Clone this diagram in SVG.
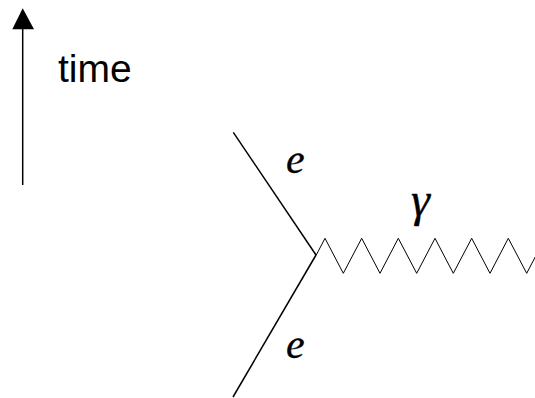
<svg xmlns="http://www.w3.org/2000/svg" width="535" height="398" viewBox="0 0 535 398">
<style>
.ln{stroke:#000;stroke-width:1.5;fill:none}
.zz{stroke:#000;stroke-width:1;fill:none}
.lbl{font-family:'Liberation Serif','Times New Roman',serif;font-style:italic;fill:#000;stroke:#000;stroke-width:0.3}
.time{font-family:'Liberation Sans',Arial,sans-serif;font-size:39px;fill:#000}
</style>
<g id="time-axis">
<line class="ln" x1="22.7" y1="185" x2="22.7" y2="28"/>
<path d="M12.3,29.3 L34,29.3 L22.7,8.3 Z" fill="#000"/>
<text class="time" x="58" y="81.5">time</text>
</g>
<g id="connectors">
<line id="e-in" class="ln" x1="233.3" y1="132.3" x2="316" y2="255"/>
<line id="e-out" class="ln" x1="316" y1="255" x2="233" y2="397"/>
<polyline id="photon" class="zz" points="316,255.5 325,238.3 343.3,273.3 361.7,238.3 380,273.3 398.3,238.3 416.7,273.3 435,238.3 453.3,273.3 471.7,238.3 490,273.3 508.3,238.3 526.7,273.3 545,238.3"/>
</g>
<g id="label-e-top"><text class="lbl" font-size="42" x="286" y="173">e</text></g>
<g id="label-e-bottom"><text class="lbl" font-size="42" x="286" y="358">e</text></g>
<g id="label-gamma"><text class="lbl" font-size="48" x="411" y="216">γ</text></g>
</svg>
